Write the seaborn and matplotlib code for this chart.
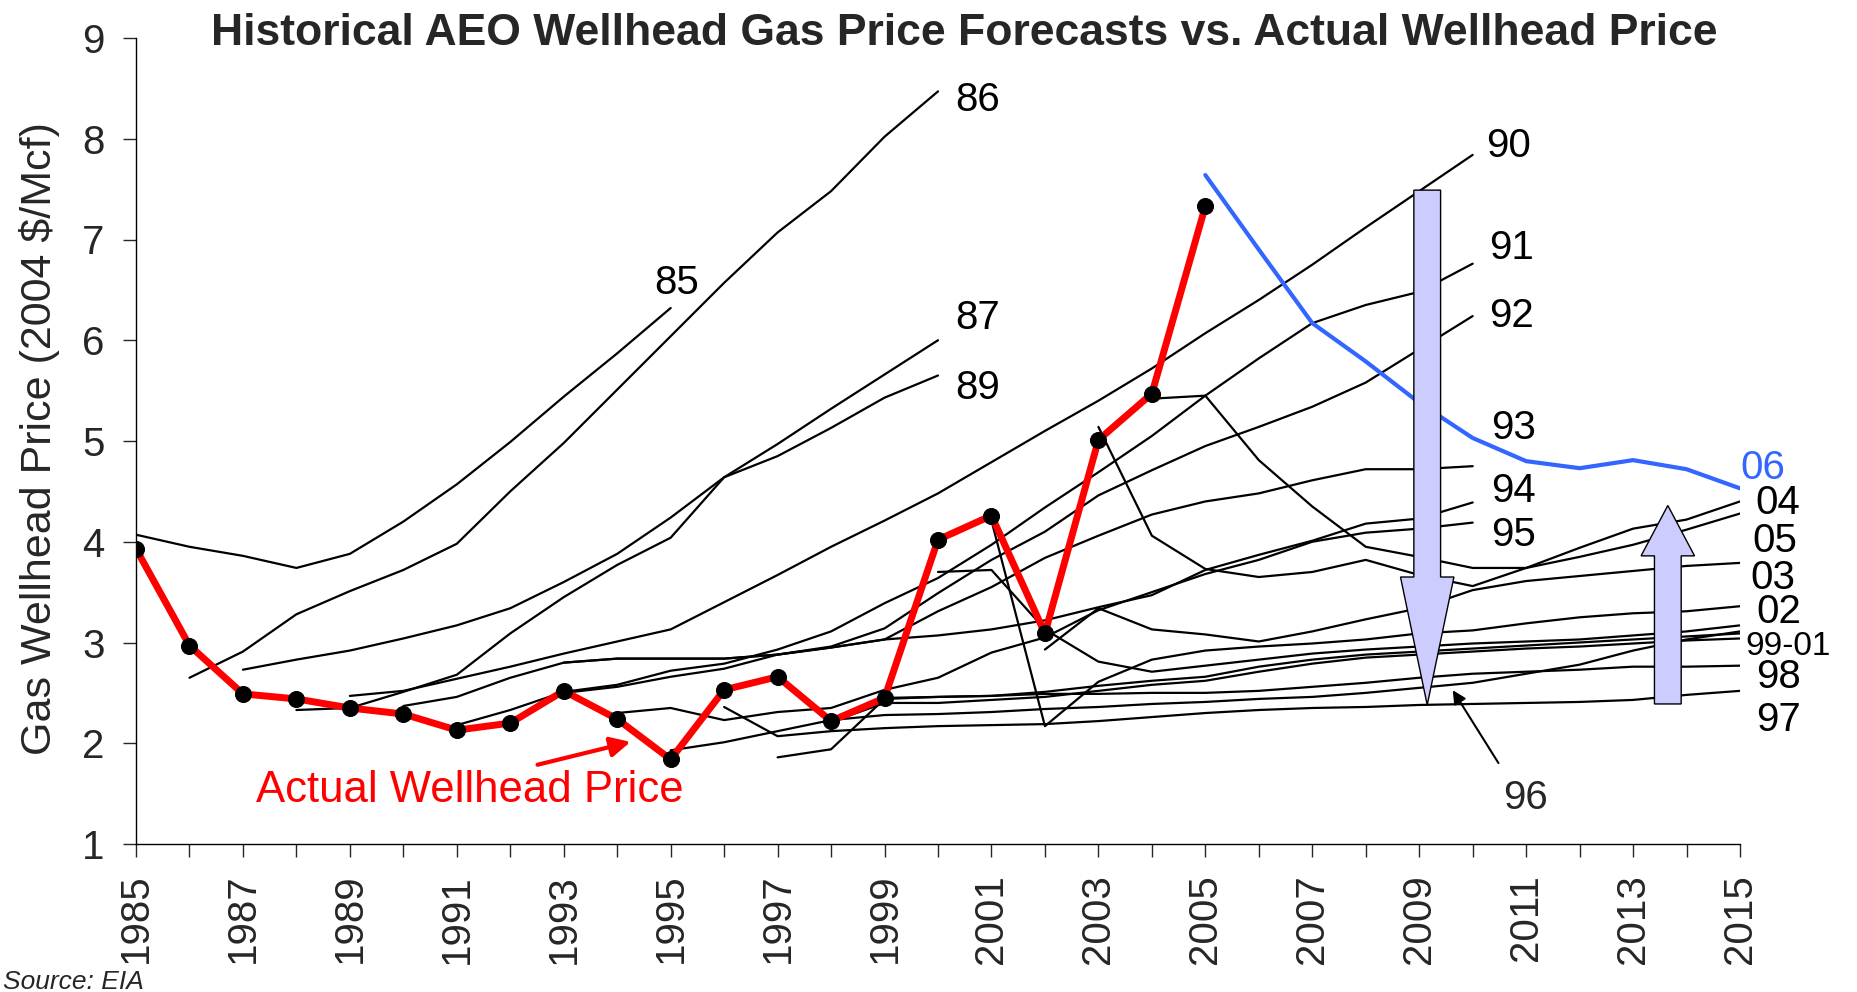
import numpy as np
import pandas as pd
import seaborn as sns
import matplotlib
matplotlib.use('Agg')
import matplotlib.pyplot as plt
from matplotlib.patches import FancyArrow

# actual wellhead price (2004 $/Mcf)
actual_years = list(range(1985, 2006))
actual = [3.93, 2.97, 2.49, 2.44, 2.35, 2.29, 2.13, 2.20, 2.52, 2.24, 1.84,
          2.53, 2.66, 2.22, 2.45, 4.02, 4.26, 3.09, 5.01, 5.47, 7.33]

# AEO forecasts, each one starts at its own year
aeo85 = [4.07, 3.95, 3.86, 3.74, 3.88, 4.20, 4.57, 4.99, 5.44, 5.87, 6.32]
aeo86 = [2.65, 2.91, 3.28, 3.51, 3.72, 3.98, 4.50, 4.98, 5.51, 6.04, 6.57, 7.07, 7.48, 8.02, 8.47]
aeo87 = [2.73, 2.83, 2.92, 3.04, 3.17, 3.34, 3.60, 3.88, 4.24, 4.64, 4.97, 5.32, 5.66, 6.00]
aeo89 = [2.33, 2.35, 2.51, 2.68, 3.09, 3.45, 3.77, 4.04, 4.64, 4.85, 5.13, 5.43, 5.65]
aeo90 = [2.47, 2.52, 2.64, 2.76, 2.89, 3.01, 3.13, 3.40, 3.67, 3.95, 4.21, 4.48, 4.79, 5.10,
         5.40, 5.72, 6.07, 6.40, 6.75, 7.12, 7.48, 7.84]
aeo91 = [2.18, 2.33, 2.51, 2.58, 2.72, 2.79, 2.93, 3.11, 3.39, 3.64, 3.97, 4.34, 4.69, 5.05,
         5.45, 5.82, 6.17, 6.35, 6.48, 6.76]
aeo92 = [2.20, 2.50, 2.56, 2.66, 2.74, 2.88, 2.96, 3.14, 3.49, 3.82, 4.10, 4.46, 4.71, 4.95,
         5.14, 5.34, 5.58, 5.91, 6.24]
aeo93 = [2.80, 2.84, 2.84, 2.84, 2.88, 2.95, 3.03, 3.31, 3.55, 3.84, 4.06, 4.27, 4.40, 4.48,
         4.61, 4.72, 4.72, 4.75]
aeo94 = [2.37, 2.46, 2.65, 2.80, 2.84, 2.84, 2.84, 2.88, 2.95, 3.03, 3.07, 3.13, 3.22, 3.35,
         3.47, 3.72, 3.87, 4.01, 4.18, 4.23, 4.39]
aeo95 = [2.30, 2.35, 2.23, 2.31, 2.35, 2.53, 2.65, 2.90, 3.05, 3.32, 3.50, 3.68, 3.82, 4.00,
         4.09, 4.13, 4.19]
aeo96 = [1.93, 2.01, 2.12, 2.23, 2.28, 2.29, 2.31, 2.34, 2.36, 2.39, 2.41, 2.44, 2.46, 2.50,
         2.55, 2.60, 2.69, 2.78, 2.92, 3.03, 3.11]
aeo97 = [2.36, 2.07, 2.12, 2.15, 2.17, 2.18, 2.19, 2.22, 2.26, 2.30, 2.33, 2.35, 2.36, 2.38,
         2.39, 2.40, 2.41, 2.43, 2.48, 2.52]
aeo98 = [1.86, 1.94, 2.44, 2.46, 2.47, 2.49, 2.49, 2.50, 2.50, 2.52, 2.56, 2.60, 2.65, 2.69,
         2.71, 2.73, 2.76, 2.76, 2.77]
aeo99 = [2.21, 2.40, 2.40, 2.43, 2.46, 2.52, 2.58, 2.62, 2.71, 2.79, 2.85, 2.88, 2.91, 2.94,
         2.96, 2.99, 3.02, 3.04]
aeo00 = [2.45, 2.46, 2.47, 2.51, 2.57, 2.62, 2.66, 2.76, 2.83, 2.88, 2.91, 2.94, 2.97, 3.00,
         3.03, 3.06, 3.09]
aeo01 = [3.70, 3.72, 3.13, 2.81, 2.71, 2.77, 2.83, 2.89, 2.93, 2.96, 2.99, 3.01, 3.03, 3.07,
         3.11, 3.17]
aeo02 = [4.21, 2.17, 2.61, 2.83, 2.92, 2.96, 2.99, 3.03, 3.09, 3.12, 3.19, 3.25, 3.29, 3.31, 3.36]
aeo03 = [2.93, 3.34, 3.13, 3.08, 3.01, 3.11, 3.23, 3.34, 3.52, 3.61, 3.66, 3.71, 3.76, 3.79]
aeo04 = [5.14, 4.06, 3.73, 3.65, 3.70, 3.82, 3.67, 3.56, 3.74, 3.94, 4.13, 4.22, 4.40]
aeo05 = [5.42, 5.45, 4.81, 4.35, 3.95, 3.85, 3.74, 3.74, 3.85, 3.97, 4.12, 4.28]
aeo06 = [7.64, 6.90, 6.17, 5.79, 5.38, 5.03, 4.80, 4.73, 4.81, 4.72, 4.53]
aeo06_start = 2005

forecasts = {
    '85': (1985, aeo85), '86': (1986, aeo86), '87': (1987, aeo87), '89': (1988, aeo89),
    '90': (1989, aeo90), '91': (1991, aeo91), '92': (1992, aeo92), '93': (1993, aeo93),
    '94': (1990, aeo94), '95': (1994, aeo95), '96': (1995, aeo96), '97': (1996, aeo97),
    '98': (1997, aeo98), '99': (1998, aeo99), '00': (1999, aeo00), '01': (2000, aeo01),
    '02': (2001, aeo02), '03': (2002, aeo03), '04': (2003, aeo04), '05': (2004, aeo05),
}

rows = []
for name, (start, vals) in forecasts.items():
    for i, v in enumerate(vals):
        rows.append({'aeo': name, 'year': start + i, 'price': v})
df = pd.DataFrame(rows)

sns.set_style('white')
plt.rcParams['font.family'] = ['Liberation Sans', 'DejaVu Sans']

fig = plt.figure(figsize=(18.58, 9.92), dpi=100)
ax = fig.add_axes([136 / 1858, 1 - 844 / 992, 1604 / 1858, 806 / 992])

sns.lineplot(data=df, x='year', y='price', units='aeo', estimator=None, sort=False,
             color='black', lw=1.6, ax=ax, legend=False, zorder=2)
sns.lineplot(x=list(range(aeo06_start, aeo06_start + len(aeo06))), y=aeo06,
             color='#3366ff', lw=3.0, ax=ax, zorder=3)
sns.lineplot(x=actual_years, y=actual, color='red', lw=5.0, marker='o', markersize=11.5,
             markerfacecolor='black', markeredgecolor='black', ax=ax, zorder=4)

# big arrows
ax.add_patch(FancyArrow(2009.15, 7.49, 0, 2.38 - 7.49, width=0.5, head_width=1.0,
                        head_length=1.27, length_includes_head=True,
                        facecolor='#ccccff', edgecolor='black', lw=1.0, zorder=5))
ax.add_patch(FancyArrow(2013.65, 2.39, 0, 4.36 - 2.39, width=0.5, head_width=1.0,
                        head_length=0.50, length_includes_head=True,
                        facecolor='#ccccff', edgecolor='black', lw=1.0, zorder=5))

# line labels: (text, x left, y centre, size, colour)
fs = 29
labels = [('85', 1994.69, 6.60, fs, 'black'), ('86', 2000.33, 8.42, fs, 'black'),
          ('87', 2000.33, 6.25, fs, 'black'), ('89', 2000.33, 5.56, fs, 'black'),
          ('90', 2010.25, 7.96, fs, 'black'), ('91', 2010.30, 6.95, fs, 'black'),
          ('92', 2010.30, 6.27, fs, 'black'), ('93', 2010.35, 5.16, fs, 'black'),
          ('94', 2010.35, 4.54, fs, 'black'), ('95', 2010.35, 4.10, fs, 'black'),
          ('06', 2015.00, 4.77, fs, '#3366ff'), ('04', 2015.28, 4.42, fs, 'black'),
          ('05', 2015.24, 4.04, fs, 'black'), ('03', 2015.20, 3.67, fs, 'black'),
          ('02', 2015.30, 3.34, fs, 'black'), ('99-01', 2015.10, 2.99, 24, 'black'),
          ('98', 2015.30, 2.69, fs, 'black'), ('97', 2015.30, 2.26, fs, 'black')]
for txt, x, y, size, col in labels:
    ax.annotate(txt, xy=(x, y), xytext=(0, -0.358 * size), textcoords='offset points',
                ha='left', va='baseline', fontsize=size, color=col, zorder=6,
                annotation_clip=False)

# 96 with pointer
ax.annotate('', xy=(2009.6, 2.55), xytext=(2010.51, 1.78),
            arrowprops=dict(arrowstyle='-|>', color='black', lw=1.5, mutation_scale=20))
ax.annotate('96', xy=(2010.57, 1.49), xytext=(0, -0.358 * fs), textcoords='offset points',
            ha='left', va='baseline', fontsize=fs)

# actual price label
ax.text(1987.25, 1.42, 'Actual Wellhead Price', color='red', fontsize=31.5,
        ha='left', va='baseline')
ax.annotate('', xy=(1994.3, 2.02), xytext=(1992.46, 1.78),
            arrowprops=dict(arrowstyle='-|>', color='red', lw=3, mutation_scale=30))

ax.set_xlim(1985, 2015)
ax.set_ylim(1, 9)
ax.set_xticks(range(1985, 2016))
ax.set_xticklabels([str(y) if y % 2 == 1 else '' for y in range(1985, 2016)],
                   rotation=90, fontsize=29)
ax.set_yticks(range(1, 10))
ax.set_yticklabels([str(v) for v in range(1, 10)], fontsize=29)
ax.tick_params(axis='x', direction='out', length=9.5, width=1.0, pad=12, bottom=True)
ax.tick_params(axis='y', direction='out', length=9.5, width=1.0, pad=13, left=True)
ax.set_xlabel('')
ax.set_ylabel('')
sns.despine(ax=ax)
for s in ['left', 'bottom']:
    ax.spines[s].set_color('black')
    ax.spines[s].set_linewidth(1.0)

fig.text(0.0215, 0.558, 'Gas Wellhead Price (2004 $/Mcf)', rotation=90, fontsize=31,
         ha='center', va='center')
fig.text(0.519, 0.9546, 'Historical AEO Wellhead Gas Price Forecasts vs. Actual Wellhead Price',
         fontsize=32, fontweight='bold', ha='center', va='baseline')
fig.text(0.0016, 0.003, 'Source: EIA', fontsize=19, style='italic', ha='left', va='baseline')

fig.savefig('out.png', dpi=100)
